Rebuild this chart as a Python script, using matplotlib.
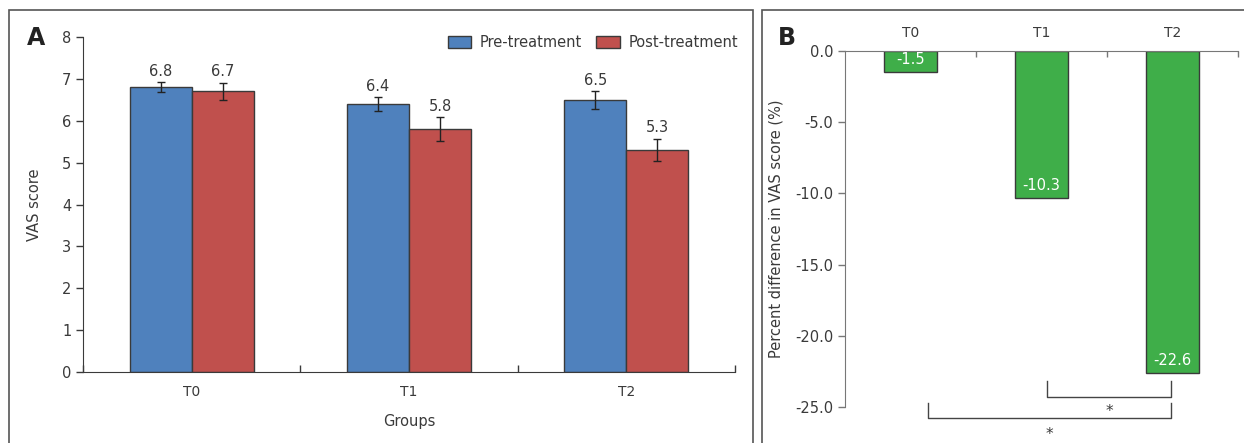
import matplotlib
matplotlib.use("Agg")
from matplotlib import pyplot as plt
from matplotlib.patches import Rectangle
import numpy as np

groups = ["T0", "T1", "T2"]
pre = [6.8, 6.4, 6.5]
post = [6.7, 5.8, 5.3]
pre_err = [0.12, 0.17, 0.21]
post_err = [0.21, 0.28, 0.27]
pct_diff = [-1.5, -10.3, -22.6]

blue = "#4F81BD"
red = "#C0504D"
green = "#3FAE49"
edge = "#3a3a3a"
txt = "#3a3a3a"

plt.rcParams["font.family"] = ["DejaVu Sans"]
plt.rcParams["text.color"] = txt
plt.rcParams["axes.labelcolor"] = txt
plt.rcParams["xtick.color"] = txt
plt.rcParams["ytick.color"] = txt

fig = plt.figure(figsize=(12.44, 4.43), dpi=100)
W, H = 1244, 443

# panel frames
fig.patches.append(Rectangle((9 / W, -0.05), (753 - 9) / W, 1 - 10 / H + 0.05,
                             transform=fig.transFigure, fill=False,
                             edgecolor="#555555", lw=1.2))
fig.patches.append(Rectangle((762 / W, -0.05), (1300 - 762) / W, 1 - 10 / H + 0.05,
                             transform=fig.transFigure, fill=False,
                             edgecolor="#555555", lw=1.2))

# ---- panel A
axA = fig.add_axes([83 / W, 1 - 372 / H, (735 - 83) / W, (372 - 37) / H])
x = np.arange(len(groups))
bw = 0.285
axA.bar(x - bw / 2, pre, bw, color=blue, edgecolor=edge, lw=1,
        yerr=pre_err, capsize=3, error_kw=dict(ecolor="#222222", lw=1, capthick=1),
        label="Pre-treatment")
axA.bar(x + bw / 2, post, bw, color=red, edgecolor=edge, lw=1,
        yerr=post_err, capsize=3, error_kw=dict(ecolor="#222222", lw=1, capthick=1),
        label="Post-treatment")
for i in range(len(groups)):
    axA.text(x[i] - bw / 2, pre[i] + pre_err[i] + 0.08, f"{pre[i]:.1f}",
             ha="center", va="bottom", fontsize=10.5)
    axA.text(x[i] + bw / 2, post[i] + post_err[i] + 0.08, f"{post[i]:.1f}",
             ha="center", va="bottom", fontsize=10.5)
axA.set_xlim(-0.5, 2.5)
axA.set_ylim(0, 8)
axA.set_yticks(range(0, 9))
axA.set_xticks(x)
axA.set_xticklabels(groups, fontsize=10)
axA.set_xticks([-0.5, 0.5, 1.5, 2.5], minor=True)
axA.tick_params(axis="x", which="major", length=0, pad=9)
axA.tick_params(axis="x", which="minor", length=5, direction="in", width=1)
axA.tick_params(axis="y", length=5, width=1, labelsize=10.5)
for s in ["top", "right"]:
    axA.spines[s].set_visible(False)
for s in ["left", "bottom"]:
    axA.spines[s].set_color(edge)
axA.set_ylabel("VAS score", fontsize=10.5, labelpad=14)
axA.set_xlabel("Groups", fontsize=10.5, labelpad=11)
axA.legend(loc="upper right", bbox_to_anchor=(1.025, 1.045), ncol=2, frameon=False,
           fontsize=10.5, handlelength=1.6, handleheight=0.9, columnspacing=1.0,
           handletextpad=0.6)
fig.text(36 / W, 1 - 38 / H, "A", fontsize=17, fontweight="bold",
         ha="center", va="center", color="#222222")

# ---- panel B
axB = fig.add_axes([845 / W, 1 - 407 / H, (1238 - 845) / W, (407 - 51) / H])
bwB = 0.4
axB.bar(x, pct_diff, bwB, color=green, edgecolor=edge, lw=1)
for i in range(len(groups)):
    axB.text(x[i], pct_diff[i] + 0.35, f"{pct_diff[i]:.1f}", ha="center",
             va="bottom", fontsize=10.5, color="white")
axB.set_xlim(-0.5, 2.5)
axB.set_ylim(-25, 0)
axB.set_yticks(np.arange(-25, 0.1, 5))
axB.set_yticklabels([f"{v:.1f}" for v in np.arange(-25, 0.1, 5)])
axB.xaxis.tick_top()
axB.set_xticks(x)
axB.set_xticklabels(groups, fontsize=10)
axB.set_xticks([0.5, 1.5, 2.5], minor=True)
axB.tick_params(axis="x", which="major", length=0, pad=8)
axB.tick_params(axis="x", which="minor", length=4, direction="in", width=1,
                color="#777777")
axB.tick_params(axis="y", length=5, width=1, labelsize=10.5, color="#777777")
for s in ["bottom", "right"]:
    axB.spines[s].set_visible(False)
axB.spines["top"].set_color("#777777")
axB.spines["left"].set_color("#777777")
axB.set_ylabel("Percent difference in VAS score (%)", fontsize=10.5, labelpad=8)

# significance brackets
brackets = [(1.04, 1.99, -23.2, -24.3, -25.3), (0.13, 1.99, -24.7, -25.8, -26.9)]
for x0, x1, ytop, ybar, ystar in brackets:
    axB.plot([x0, x0, x1, x1], [ytop, ybar, ybar, ytop], color="#444444",
             lw=1, clip_on=False)
    axB.text((x0 + x1) / 2, ystar, "*", ha="center", va="center", fontsize=11,
             clip_on=False)
fig.text(787 / W, 1 - 38 / H, "B", fontsize=17, fontweight="bold",
         ha="center", va="center", color="#222222")

fig.savefig("out.png", dpi=100)
